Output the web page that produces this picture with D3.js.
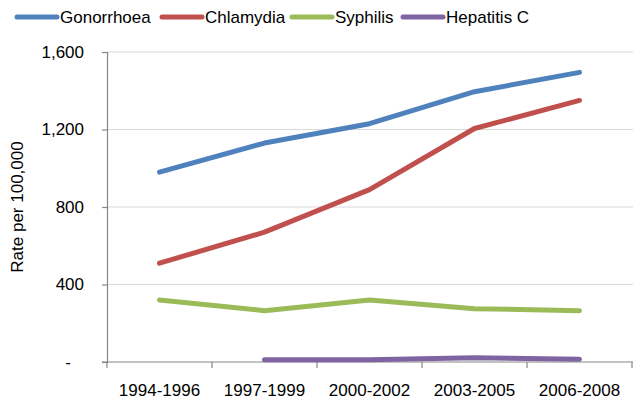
<!DOCTYPE html>
<html>
<head>
<meta charset="utf-8">
<script src="https://cdn.jsdelivr.net/npm/d3@7"></script>
<style>
  body { margin: 0; background: #fff; }
  text { font-family: "Liberation Sans", "DejaVu Sans", sans-serif; fill: #000; }
</style>
</head>
<body>
<script>
var periods     = ["1994-1996", "1997-1999", "2000-2002", "2003-2005", "2006-2008"];
var gonorrhoea  = [980, 1130, 1230, 1395, 1495];
var chlamydia   = [510, 670, 890, 1205, 1350];
var syphilis    = [320, 265, 320, 275, 265];
var hepatitisC  = [null, 12, 12, 22, 14];
var yTicks      = [0, 400, 800, 1200, 1600];

var series = [
  { name: "Gonorrhoea",  values: gonorrhoea, color: "#4F81BD" },
  { name: "Chlamydia",   values: chlamydia,  color: "#C0504D" },
  { name: "Syphilis",    values: syphilis,   color: "#9BBB59" },
  { name: "Hepatitis C", values: hepatitisC, color: "#8064A2" }
];

var width = 633, height = 411;
var plotLeft = 107, plotRight = 632, plotTop = 52, plotBottom = 362;

var svg = d3.select("body").append("svg")
            .attr("width", width)
            .attr("height", height);

var x = d3.scaleBand().domain(periods).range([plotLeft, plotRight]).padding(0);
var y = d3.scaleLinear().domain([0, 1600]).range([plotBottom, plotTop]);

// gridlines
svg.selectAll("line.grid")
   .data(yTicks.filter(function(d){ return d > 0; }))
   .enter().append("line")
   .attr("class", "grid")
   .attr("x1", plotLeft).attr("x2", width)
   .attr("y1", function(d){ return y(d); })
   .attr("y2", function(d){ return y(d); })
   .style("stroke", "#d9d9d9").style("stroke-width", 1.2);

// y axis
var yAxis = d3.axisLeft(y).tickValues(yTicks).tickSize(5).tickPadding(18)
              .tickFormat(function(d){ return d === 0 ? "-" : d3.format(",")(d); });
var gy = svg.append("g").attr("transform", "translate(" + plotLeft + ",0)").call(yAxis);
gy.select(".domain").style("stroke", "#868686").style("stroke-width", 1.2);
gy.selectAll(".tick line").style("stroke", "#868686").style("stroke-width", 1.2);
gy.selectAll(".tick text").style("font-size", "17px").style("font-family", "Liberation Sans, sans-serif")
  .attr("dx", function(d){ return d === 0 ? "-13px" : "0"; });

// x axis
var gx = svg.append("g").attr("transform", "translate(0," + plotBottom + ")");
gx.append("line").attr("x1", plotLeft - 5).attr("x2", width)
  .style("stroke", "#868686").style("stroke-width", 1.2);
var edges = periods.map(function(p){ return x(p); }).concat([x(periods[periods.length - 1]) + x.bandwidth()]);
gx.selectAll("line.tk").data(edges).enter().append("line")
  .attr("class", "tk")
  .attr("x1", function(d){ return d; }).attr("x2", function(d){ return d; })
  .attr("y1", 0).attr("y2", 6)
  .style("stroke", "#868686").style("stroke-width", 1.2);
gx.selectAll("text").data(periods).enter().append("text")
  .attr("x", function(d){ return x(d) + x.bandwidth() / 2; })
  .attr("y", 34)
  .attr("text-anchor", "middle")
  .style("font-size", "17px")
  .text(function(d){ return d; });

// y title
svg.append("text")
   .attr("transform", "translate(23," + ((plotTop + plotBottom) / 2) + ") rotate(-90)")
   .attr("text-anchor", "middle")
   .style("font-size", "17px")
   .text("Rate per 100,000");

// lines
var line = d3.line()
  .defined(function(d){ return d != null; })
  .x(function(d, i){ return x(periods[i]) + x.bandwidth() / 2; })
  .y(function(d){ return y(d); });

svg.selectAll("path.series").data(series).enter().append("path")
   .attr("class", "series")
   .attr("d", function(s){ return line(s.values); })
   .style("fill", "none")
   .style("stroke", function(s){ return s.color; })
   .style("stroke-width", 5)
   .style("stroke-linecap", "round")
   .style("stroke-linejoin", "round");

// legend
var legendX = [17, 162, 292, 403];
var lg = svg.selectAll("g.legend").data(series).enter().append("g")
  .attr("class", "legend")
  .attr("transform", function(d, i){ return "translate(" + legendX[i] + ",17)"; });
lg.append("line").attr("x1", 0).attr("x2", 40)
  .style("stroke", function(s){ return s.color; })
  .style("stroke-width", 5).style("stroke-linecap", "round");
lg.append("text").attr("x", 43).attr("y", 6)
  .style("font-size", "17px")
  .text(function(s){ return s.name; });
</script>
</body>
</html>
